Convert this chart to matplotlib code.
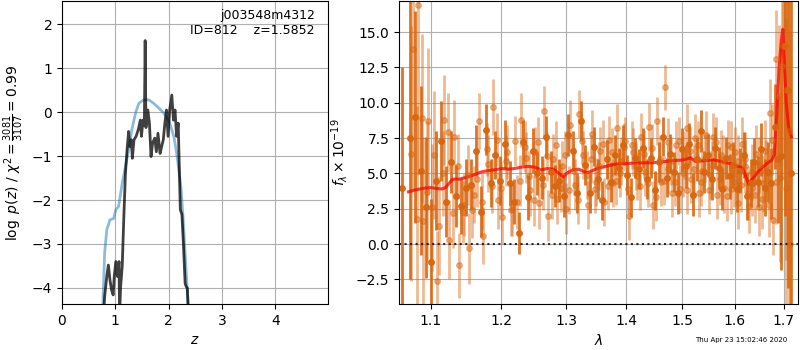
import numpy as np
import matplotlib
matplotlib.use('Agg')
import matplotlib.pyplot as plt
from matplotlib.ticker import FixedLocator, FixedFormatter, NullLocator

# p(z) panel
z_prior = [0.76, 0.80, 0.84, 0.90, 0.97, 1.01, 1.06, 1.13, 1.19, 1.25, 1.31, 1.38, 1.44, 1.53,
           1.63, 1.72, 1.82, 1.91, 2.01, 2.10, 2.16, 2.23, 2.27, 2.32, 2.38]
lnp_prior = [-4.6, -3.2, -2.68, -2.45, -2.42, -2.22, -2.15, -1.62, -1.24, -0.86, -0.40, -0.02,
             0.20, 0.28, 0.28, 0.20, 0.09, -0.02, -0.21, -0.56, -1.01, -1.69, -2.38, -3.44, -4.6]

z_fit = [0.78, 0.80, 0.84, 0.87, 0.90, 0.93, 0.96, 0.98, 1.01, 1.04, 1.07, 1.08, 1.10, 1.13,
         1.16, 1.19, 1.22, 1.25, 1.27, 1.30, 1.32, 1.35, 1.39, 1.43, 1.47, 1.49, 1.52, 1.545,
         1.56, 1.575, 1.61, 1.64, 1.67, 1.70, 1.74, 1.77, 1.80, 1.84, 1.87, 1.90, 1.93, 1.96,
         1.99, 2.02, 2.06, 2.09, 2.12, 2.15, 2.18, 2.22, 2.25, 2.28, 2.31, 2.33, 2.35, 2.37]
lnp_fit = [-4.6, -4.2, -3.74, -3.48, -3.82, -4.05, -4.16, -3.74, -3.40, -3.74, -3.40, -4.6,
           -3.97, -3.50, -2.38, -1.39, -0.86, -0.44, -0.78, -0.63, -1.05, -0.63, -0.55, -0.40,
           -0.18, -0.55, -0.18, -0.30, 1.63, -0.35, 0.05, -0.25, -1.01, -0.70, -0.59, -0.90,
           -0.48, -0.94, -0.78, -0.63, -0.25, 0.05, -0.55, 0.05, 0.39, -0.18, 0.05, -0.55,
           -0.25, -2.22, -2.33, -3.06, -3.90, -3.97, -4.00, -4.6]

# spectrum panel: three sets of samples
wave_a = [1.061, 1.072, 1.079, 1.086, 1.093, 1.100, 1.107, 1.114, 1.121, 1.128, 1.135, 1.142,
          1.149, 1.156, 1.163, 1.170, 1.177, 1.184, 1.191, 1.198, 1.205, 1.212, 1.219, 1.226,
          1.233, 1.240, 1.247, 1.254, 1.261, 1.268, 1.275, 1.282, 1.289, 1.296, 1.303, 1.310,
          1.317, 1.324, 1.331, 1.338, 1.345, 1.352, 1.359, 1.366, 1.373, 1.380, 1.387, 1.394,
          1.401, 1.408, 1.415, 1.422, 1.429, 1.436, 1.443, 1.450, 1.457, 1.464, 1.471, 1.478,
          1.485, 1.492, 1.499, 1.506, 1.513, 1.520, 1.527, 1.534, 1.541, 1.548, 1.555, 1.562,
          1.569, 1.576, 1.583, 1.590, 1.597, 1.604, 1.611, 1.618, 1.625, 1.632, 1.639, 1.646,
          1.653, 1.660, 1.667, 1.674, 1.681, 1.688, 1.695, 1.702, 1.709, 1.716]
flux_a = [4.0, 7.5, 9.0, 5.2, 2.6, -1.3, 4.5, 7.3, 3.0, 5.8, 3.4, 2.7,
          4.0, 4.2, 6.6, 2.3, 8.1, 4.3, 6.3, 4.5, 7.1, 4.3, 3.0, 0.8,
          7.2, 3.3, 6.6, 5.0, 4.7, 7.6, 5.1, 4.1, 4.5, 3.4, 7.7, 6.6,
          3.6, 8.7, 5.6, 3.6, 6.9, 4.6, 3.1, 6.0, 4.4, 6.3, 5.4, 7.0,
          4.9, 3.3, 6.1, 5.3, 6.8, 4.6, 6.1, 3.8, 5.8, 7.6, 4.7, 6.4,
          5.1, 3.6, 6.7, 5.5, 7.1, 3.5, 6.0, 8.0, 5.1, 6.3, 4.6, 6.8,
          5.4, 3.9, 6.1, 4.8, 5.6, 3.9, 5.2, 6.3, 3.4, 4.3, 5.8, 4.4,
          6.7, 4.0, 5.1, 4.3, 8.3, 6.0, 6.2, 14.0, 10.9, 5.0]
err_a = [8.5, 10.0, 7.5, 6.0, 5.0, 4.5, 3.5, 2.8, 2.5, 2.2, 2.2, 2.0,
         2.0, 1.8, 1.8, 1.8, 1.8, 1.7, 1.7, 1.7, 1.7, 1.6, 1.6, 1.5,
         1.6, 1.6, 1.6, 1.5, 1.5, 1.5, 1.5, 1.5, 1.5, 1.5, 1.5, 1.4,
         1.4, 1.4, 1.4, 1.4, 1.4, 1.4, 1.4, 1.4, 1.4, 1.4, 1.4, 1.4,
         1.4, 1.4, 1.4, 1.4, 1.4, 1.4, 1.4, 1.4, 1.4, 1.4, 1.4, 1.4,
         1.4, 1.5, 1.5, 1.5, 1.5, 1.5, 1.5, 1.5, 1.5, 1.5, 1.5, 1.5,
         1.5, 1.5, 1.5, 1.6, 1.6, 1.6, 1.6, 1.6, 1.7, 1.7, 1.7, 1.8,
         1.9, 2.0, 2.1, 2.5, 3.0, 4.5, 8.0, 12.0, 14.0, 16.0]

wave_b = [1.0755, 1.0825, 1.0895, 1.0965, 1.1035, 1.1105, 1.1175, 1.1245, 1.1315, 1.1385,
          1.1455, 1.1525, 1.1595, 1.1665, 1.1735, 1.1805, 1.1875, 1.1945, 1.2015, 1.2085,
          1.2155, 1.2225, 1.2295, 1.2365, 1.2435, 1.2505, 1.2575, 1.2645, 1.2715, 1.2785,
          1.2855, 1.2925, 1.2995, 1.3065, 1.3135, 1.3205, 1.3275, 1.3345, 1.3415, 1.3485,
          1.3555, 1.3625, 1.3695, 1.3765, 1.3835, 1.3905, 1.3975, 1.4045, 1.4115, 1.4185,
          1.4255, 1.4325, 1.4395, 1.4465, 1.4535, 1.4605, 1.4675, 1.4745, 1.4815, 1.4885,
          1.4955, 1.5025, 1.5095, 1.5165, 1.5235, 1.5305, 1.5375, 1.5445, 1.5515, 1.5585,
          1.5655, 1.5725, 1.5795, 1.5865, 1.5935, 1.6005, 1.6075, 1.6145, 1.6215, 1.6285,
          1.6355, 1.6425, 1.6495, 1.6565, 1.6635, 1.6705, 1.6775, 1.6845, 1.6915, 1.6985,
          1.7055, 1.7125]
flux_b = [13.8, 16.9, 1.6, 8.7, 6.3, 1.3, 8.8, 0.3, 7.6, -1.5,
          2.8, -0.3, 3.5, 8.7, 0.6, 5.7, 9.7, 3.1, 1.9, 6.5,
          2.5, 3.0, 8.8, 6.1, 3.8, 6.5, 2.9, 9.4, 2.0, 6.0,
          3.2, 5.5, 2.5, 8.4, 4.2, 9.2, 6.3, 2.8, 7.8, 4.4,
          6.6, 3.0, 7.4, 4.3, 8.2, 5.9, 7.3, 2.0, 6.5, 4.8,
          7.6, 5.1, 8.3, 2.8, 8.7, 4.4, 11.1, 5.3, 3.6, 7.0,
          3.9, 6.3, 8.2, 4.6, 7.5, 3.6, 5.2, 7.7, 4.9, 7.6,
          3.5, 6.3, 4.0, 7.0, 3.9, 6.5, 2.9, 7.1, 5.5, 2.7,
          4.0, 6.4, 2.6, 4.3, 5.2, 9.3, 1.7, 13.1, 4.7, 14.0,
          10.9, 0.0]
err_b = [10.0, 12.0, 6.0, 5.2, 4.5, 3.5, 3.2, 2.8, 2.6, 2.3,
         2.2, 2.5, 2.0, 2.0, 2.0, 2.0, 2.0, 2.0, 1.9, 1.9,
         1.9, 1.9, 1.9, 1.8, 1.8, 1.8, 1.8, 1.8, 1.8, 1.8,
         1.8, 1.8, 1.8, 1.8, 1.8, 1.7, 1.7, 1.7, 1.7, 1.7,
         1.7, 1.7, 1.7, 1.7, 1.7, 1.7, 1.7, 1.7, 1.7, 1.7,
         1.7, 1.7, 1.7, 1.7, 1.7, 1.7, 1.6, 1.7, 1.7, 1.7,
         1.7, 1.7, 1.7, 1.7, 1.7, 1.7, 1.7, 1.7, 1.7, 1.7,
         1.7, 1.8, 1.8, 1.8, 1.8, 1.8, 1.8, 1.9, 1.9, 1.9,
         2.0, 2.0, 2.0, 2.0, 2.2, 2.4, 2.5, 3.5, 6.0, 8.0,
         12.0, 15.0]

wave_c = [1.0738, 1.0808, 1.0878, 1.0948, 1.1018, 1.1088, 1.1158, 1.1228, 1.1298, 1.1368,
          1.1438, 1.1508, 1.1578, 1.1648, 1.1718, 1.1788, 1.1858, 1.1928, 1.1998, 1.2068,
          1.2138, 1.2208, 1.2278, 1.2348, 1.2418, 1.2488, 1.2558, 1.2628, 1.2698, 1.2768,
          1.2838, 1.2908, 1.2978, 1.3048, 1.3118, 1.3188, 1.3258, 1.3328, 1.3398, 1.3468,
          1.3538, 1.3608, 1.3678, 1.3748, 1.3818, 1.3888, 1.3958, 1.4028, 1.4098, 1.4168,
          1.4238, 1.4308, 1.4378, 1.4448, 1.4518, 1.4588, 1.4658, 1.4728, 1.4798, 1.4868,
          1.4938, 1.5008, 1.5078, 1.5148, 1.5218, 1.5288, 1.5358, 1.5428, 1.5498, 1.5568,
          1.5638, 1.5708, 1.5778, 1.5848, 1.5918, 1.5988, 1.6058, 1.6128, 1.6198, 1.6268,
          1.6338, 1.6408, 1.6478, 1.6548, 1.6618, 1.6688, 1.6758, 1.6828, 1.6898, 1.6968,
          1.7038, 1.7108]
flux_c = [6.4, 1.8, 8.9, 3.7, 2.6, -2.6, 5.0, 7.9, 2.2, 5.5,
          2.3, 4.9, 2.4, 4.6, 3.0, 6.7, 4.1, 7.4, 4.0, 5.9,
          2.4, 7.3, 4.5, 6.9, 4.8, 3.1, 7.2, 4.2, 6.2, 3.5,
          7.0, 4.0, 6.3, 3.8, 5.2, 3.1, 7.3, 4.9, 6.0, 3.9,
          5.5, 7.1, 4.1, 6.5, 4.5, 5.0, 6.9, 3.9, 7.0, 5.5,
          4.1, 6.4, 4.3, 6.8, 3.3, 6.0, 4.5, 7.2, 5.9, 4.4,
          7.3, 5.0, 3.8, 6.6, 5.3, 7.0, 4.4, 6.1, 3.8, 5.6,
          7.2, 4.6, 5.9, 3.4, 6.9, 4.4, 5.9, 4.2, 6.0, 3.6,
          5.1, 3.5, 5.6, 3.2, 6.6, 2.8, 7.4, 4.4, 10.5, 12.6,
          4.0, 8.0]
err_c = [9.0, 8.0, 6.0, 5.0, 4.5, 3.5, 3.0, 2.8, 2.5, 2.3,
         2.2, 2.1, 2.0, 2.0, 2.0, 1.9, 1.9, 1.9, 1.9, 1.8,
         1.8, 1.8, 1.8, 1.8, 1.8, 1.8, 1.8, 1.8, 1.7, 1.7,
         1.7, 1.7, 1.7, 1.7, 1.7, 1.7, 1.7, 1.7, 1.7, 1.7,
         1.7, 1.7, 1.7, 1.7, 1.7, 1.7, 1.7, 1.7, 1.7, 1.7,
         1.7, 1.7, 1.7, 1.7, 1.7, 1.7, 1.7, 1.7, 1.7, 1.7,
         1.7, 1.7, 1.7, 1.7, 1.7, 1.7, 1.7, 1.7, 1.7, 1.7,
         1.8, 1.8, 1.8, 1.8, 1.8, 1.8, 1.8, 1.9, 1.9, 1.9,
         2.0, 2.0, 2.0, 2.1, 2.2, 2.3, 2.5, 3.0, 5.0, 8.0,
         12.0, 15.0]

wave_model = [1.07, 1.08, 1.09, 1.10, 1.105, 1.115, 1.12, 1.13, 1.14, 1.15, 1.16, 1.17, 1.18,
              1.19, 1.20, 1.21, 1.22, 1.23, 1.24, 1.25, 1.26, 1.27, 1.28, 1.29, 1.295, 1.30,
              1.31, 1.32, 1.33, 1.335, 1.34, 1.35, 1.36, 1.37, 1.38, 1.39, 1.40, 1.42, 1.44,
              1.46, 1.48, 1.50, 1.51, 1.515, 1.525, 1.54, 1.56, 1.58, 1.60, 1.615, 1.62, 1.625,
              1.628, 1.635, 1.645, 1.655, 1.665, 1.675, 1.68, 1.685, 1.69, 1.695, 1.698, 1.70,
              1.705, 1.71, 1.716]
flux_model = [3.7, 3.85, 3.95, 4.0, 3.95, 3.9, 4.0, 4.6, 4.6, 4.75, 4.9, 5.1, 5.2,
              5.25, 5.35, 5.3, 5.35, 5.45, 5.5, 5.45, 5.25, 5.35, 5.3, 4.95, 4.75, 5.0,
              5.25, 5.3, 5.1, 5.05, 5.15, 5.35, 5.45, 5.55, 5.65, 5.7, 5.7, 5.75, 5.75,
              5.8, 5.9, 5.95, 6.05, 6.1, 5.85, 5.9, 5.95, 5.8, 5.6, 5.4, 5.0, 4.5,
              4.25, 4.6, 5.05, 5.4, 5.7, 5.95, 6.3, 9.0, 12.5, 14.5, 15.2, 13.5,
              10.0, 8.3, 7.6]

wave_ticks = [1.1, 1.2, 1.3, 1.4, 1.5, 1.6, 1.7]

fig = plt.figure(figsize=(8, 3.5), dpi=100)

ax = fig.add_axes([0.0775, 0.131, 0.3325, 0.866])
ax.plot(z_prior, lnp_prior, color='tab:blue', alpha=0.5, lw=2)
ax.plot(z_fit, lnp_fit, color='k', alpha=0.75, lw=2)
ax.set_xlim(0, 4.99)
ax.set_ylim(-4.37, 2.53)
ax.set_xticks([0, 1, 2, 3, 4])
ax.grid()
ax.set_xlabel(r'$z$')
ax.set_ylabel(r'$\log\ p(z)$' + ' / ' + r'$\chi^2=\frac{3081}{3107}=0.99$')
ax.text(0.95, 0.975, 'j003548m4312\nID=812    z=1.5852', ha='right', va='top',
        fontsize=9, transform=ax.transAxes)

ax = fig.add_axes([0.49875, 0.131, 0.49875, 0.866])
orange = '#d8660f'
for w, f, e in [(wave_b, flux_b, err_b), (wave_c, flux_c, err_c)]:
    ax.errorbar(w, f, yerr=e, color=orange, alpha=0.45, marker='o', ms=4,
                linestyle='None', elinewidth=2)
ax.errorbar(wave_a, flux_a, yerr=err_a, color=orange, alpha=0.9, marker='o', ms=4,
            linestyle='None', elinewidth=2)
ax.plot(wave_model, flux_model, color='r', alpha=0.75, lw=2.2)
ax.axhline(0, color='k', linestyle=':', lw=1.5, alpha=0.8)
ax.set_xscale('log')
ax.set_xlim(1.0575, 1.73)
ax.set_ylim(-4.25, 17.2)
ax.xaxis.set_major_locator(FixedLocator(wave_ticks))
ax.xaxis.set_major_formatter(FixedFormatter(['%.1f' % w for w in wave_ticks]))
ax.xaxis.set_minor_locator(NullLocator())
ax.grid()
ax.set_xlabel(r'$\lambda$')
ax.set_ylabel(r'$f_\lambda\times 10^{-19}$')

fig.text(0.984, 0.02, 'Thu Apr 23 15:02:46 2020', ha='right', va='bottom', fontsize=5)

fig.savefig('out.png', dpi=100)
